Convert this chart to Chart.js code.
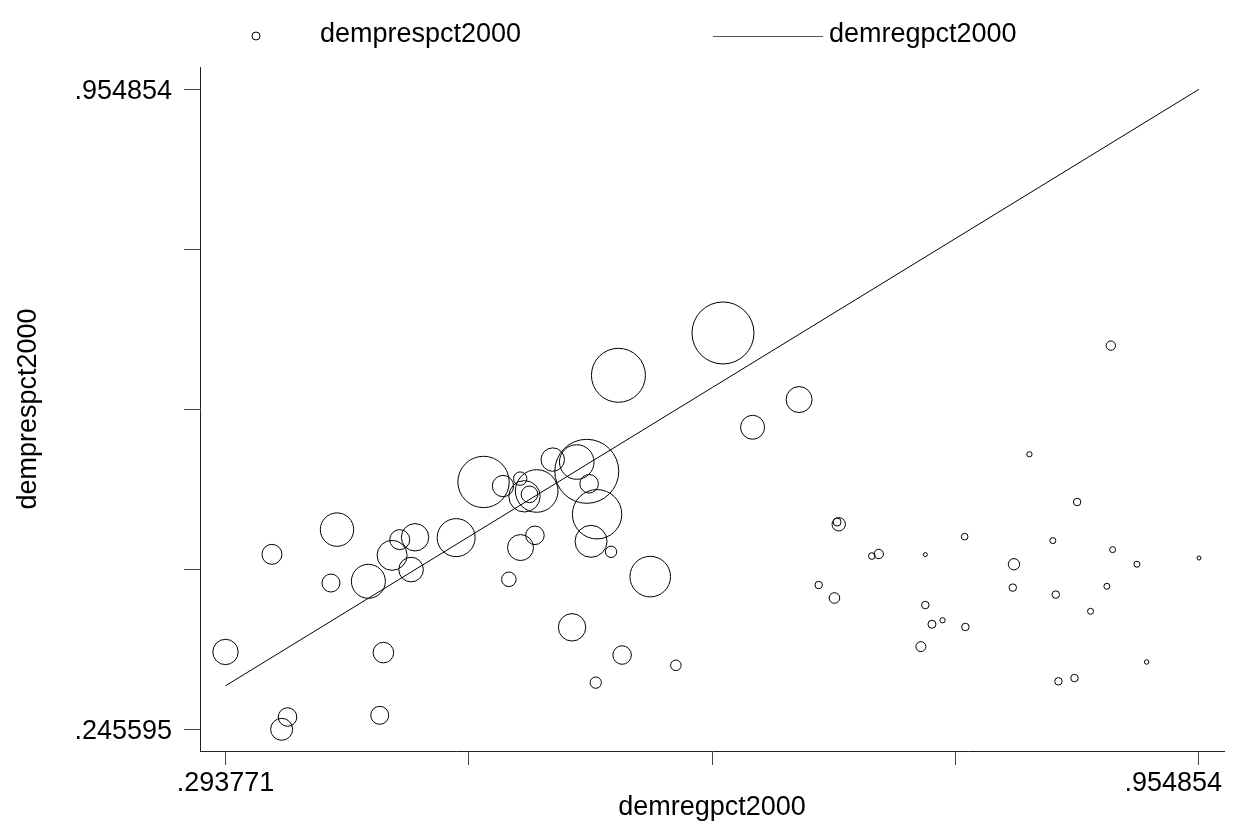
<!DOCTYPE html>
<html>
<head>
<meta charset="utf-8">
<script src="https://cdn.jsdelivr.net/npm/chart.js@4.4.1/dist/chart.umd.min.js"></script>
<style>
	html, body { margin: 0; padding: 0; background: #fff; }
	#wrap { width: 1233px; height: 836px; }
</style>
</head>
<body>
<div id="wrap"><canvas id="chart" width="1233" height="836"></canvas></div>
<script>
// one entry per observation
const demregpct2000 = [
	0.293771, 0.3253, 0.3695, 0.3654, 0.3908, 0.4069, 0.4121, 0.4225, 0.4198, 0.4504,
	0.4690, 0.4822, 0.4939, 0.4968, 0.5051, 0.5002, 0.5160, 0.5323, 0.5391, 0.5407,
	0.5461, 0.5420, 0.5556, 0.5039, 0.4941, 0.4862, 0.5822, 0.5291, 0.5631, 0.5996,
	0.5452, 0.4010, 0.3985, 0.3359, 0.3319, 0.5606, 0.6316, 0.6517, 0.6833,
	0.8950, 0.8397, 0.8721, 0.7102, 0.7091, 0.7957, 0.8556, 0.8962, 0.7327, 0.7374,
	0.7690, 0.8292, 0.9127, 0.954854, 0.6966, 0.7073, 0.8284, 0.8923, 0.8576, 0.8812,
	0.7690, 0.7735, 0.7807, 0.7962, 0.7660, 0.9193, 0.8594, 0.8703
];
const demprespct2000 = [
	0.3313, 0.4395, 0.4669, 0.4077, 0.4096, 0.4384, 0.4558, 0.4584, 0.4226, 0.4580,
	0.5197, 0.5152, 0.5234, 0.5038, 0.5097, 0.5060, 0.5445, 0.5418, 0.5315, 0.5177,
	0.4839, 0.4539, 0.4423, 0.4606, 0.4470, 0.4118, 0.4148, 0.3586, 0.3279, 0.3165,
	0.2973, 0.3306, 0.2611, 0.2592, 0.245595, 0.6379, 0.6848, 0.5803, 0.6110,
	0.6708, 0.5504, 0.4975, 0.4728, 0.4753, 0.4591, 0.4547, 0.4447, 0.4376, 0.4399,
	0.4392, 0.4285, 0.4285, 0.4354, 0.4055, 0.3911, 0.4026, 0.4041, 0.3949, 0.3764,
	0.3833, 0.3620, 0.3664, 0.3590, 0.3372, 0.3202, 0.2988, 0.3024
];
// bubble weights (area)
const weights = [
	161, 100, 279, 81, 289, 225, 100, 188, 151, 361,
	660, 114, 45, 246, 454, 69, 137, 299, 1024, 86,
	610, 256, 32, 86, 169, 53, 412, 188, 86, 28,
	32, 106, 81, 86, 121, 729, 961, 144, 169,
	22, 7, 14, 45, 16, 11, 9, 9, 11, 22,
	4, 32, 9, 4, 14, 28, 14, 9, 14, 9,
	14, 16, 7, 14, 25, 5, 14, 14
];
// line: demregpct2000 against itself
const lineX = [0.293771, 0.954854];
const lineY = [0.293771, 0.954854];

const xTicks = [0.293771, 0.459042, 0.624313, 0.789583, 0.954854];
const xTickLabels = [".293771", "", "", "", ".954854"];
const yTicks = [0.245595, 0.422910, 0.600225, 0.777539, 0.954854];
const yTickLabels = [".245595", "", "", "", ".954854"];

const FONT = "'Liberation Sans', Arial, Helvetica, sans-serif";
Chart.defaults.font.family = FONT;
Chart.defaults.color = "#000";

const bubbles = demregpct2000.map((x, i) => ({ x: x, y: demprespct2000[i], r: Math.sqrt(weights[i]) }));
const line = lineX.map((x, i) => ({ x: x, y: lineY[i] }));

const overlay = {
	id: "overlay",
	afterDraw(chart) {
		const c = chart.ctx;
		const xs = chart.scales.x;
		c.save();
		c.font = "27px " + FONT;
		c.fillStyle = "#000";
		c.textBaseline = "alphabetic";
		c.textAlign = "left";
		// x tick labels, last one kept inside the picture
		xTicks.forEach((v, i) => {
			const t = xTickLabels[i];
			if (!t) return;
			const w = c.measureText(t).width;
			let left = xs.getPixelForValue(v) - w / 2;
			left = Math.min(left, chart.width - 11 - w);
			c.fillText(t, left, xs.top + 40);
		});
		// legend
		c.strokeStyle = "#000";
		c.lineWidth = 1;
		c.beginPath();
		c.arc(256, 36, 4, 0, Math.PI * 2);
		c.stroke();
		c.fillText("demprespct2000", 320, 42);
		c.strokeStyle = "#555";
		c.beginPath();
		c.moveTo(713, 36.5);
		c.lineTo(823, 36.5);
		c.stroke();
		c.fillText("demregpct2000", 829, 42);
		c.restore();
	},
};

new Chart(document.getElementById("chart"), {
	data: {
		datasets: [
			{
				type: "bubble",
				label: "demprespct2000",
				data: bubbles,
				borderColor: "#000",
				borderWidth: 1,
				backgroundColor: "rgba(0,0,0,0)",
			},
			{
				type: "line",
				label: "demregpct2000",
				data: line,
				borderColor: "#000",
				borderWidth: 1,
				pointRadius: 0,
				fill: false,
				tension: 0,
			},
		],
	},
	options: {
		responsive: false,
		animation: false,
		devicePixelRatio: 1,
		layout: { autoPadding: false, padding: { top: 67, right: 9, left: 0, bottom: 0 } },
		plugins: { legend: { display: false }, tooltip: { enabled: false } },
		scales: {
			x: {
				type: "linear",
				position: "bottom",
				min: 0.276455,
				max: 0.971831,
				afterBuildTicks: (s) => { s.ticks = xTicks.map((v) => ({ value: v })); },
				afterFit: (s) => { s.height = 85; },
				ticks: { display: false },
				grid: { drawOnChartArea: false, drawTicks: true, tickLength: 14, color: "#444" },
				border: { color: "#222", width: 1 },
				title: { display: true, text: "demregpct2000", font: { size: 27 }, padding: { top: 0, bottom: 12 } },
			},
			y: {
				type: "linear",
				position: "left",
				min: 0.221546,
				max: 0.979567,
				afterBuildTicks: (s) => { s.ticks = yTicks.map((v) => ({ value: v })); },
				afterFit: (s) => { s.width = 200; },
				ticks: {
					autoSkip: false,
					padding: 12,
					labelOffset: 2,
					font: { size: 27 },
					callback: (v, i) => yTickLabels[i],
				},
				grid: { drawOnChartArea: false, drawTicks: true, tickLength: 16, color: "#444" },
				border: { color: "#222", width: 1 },
				title: { display: true, text: "demprespct2000", font: { size: 27 }, padding: { top: 12, bottom: 0 } },
			},
		},
	},
	plugins: [overlay],
});
</script>
</body>
</html>
